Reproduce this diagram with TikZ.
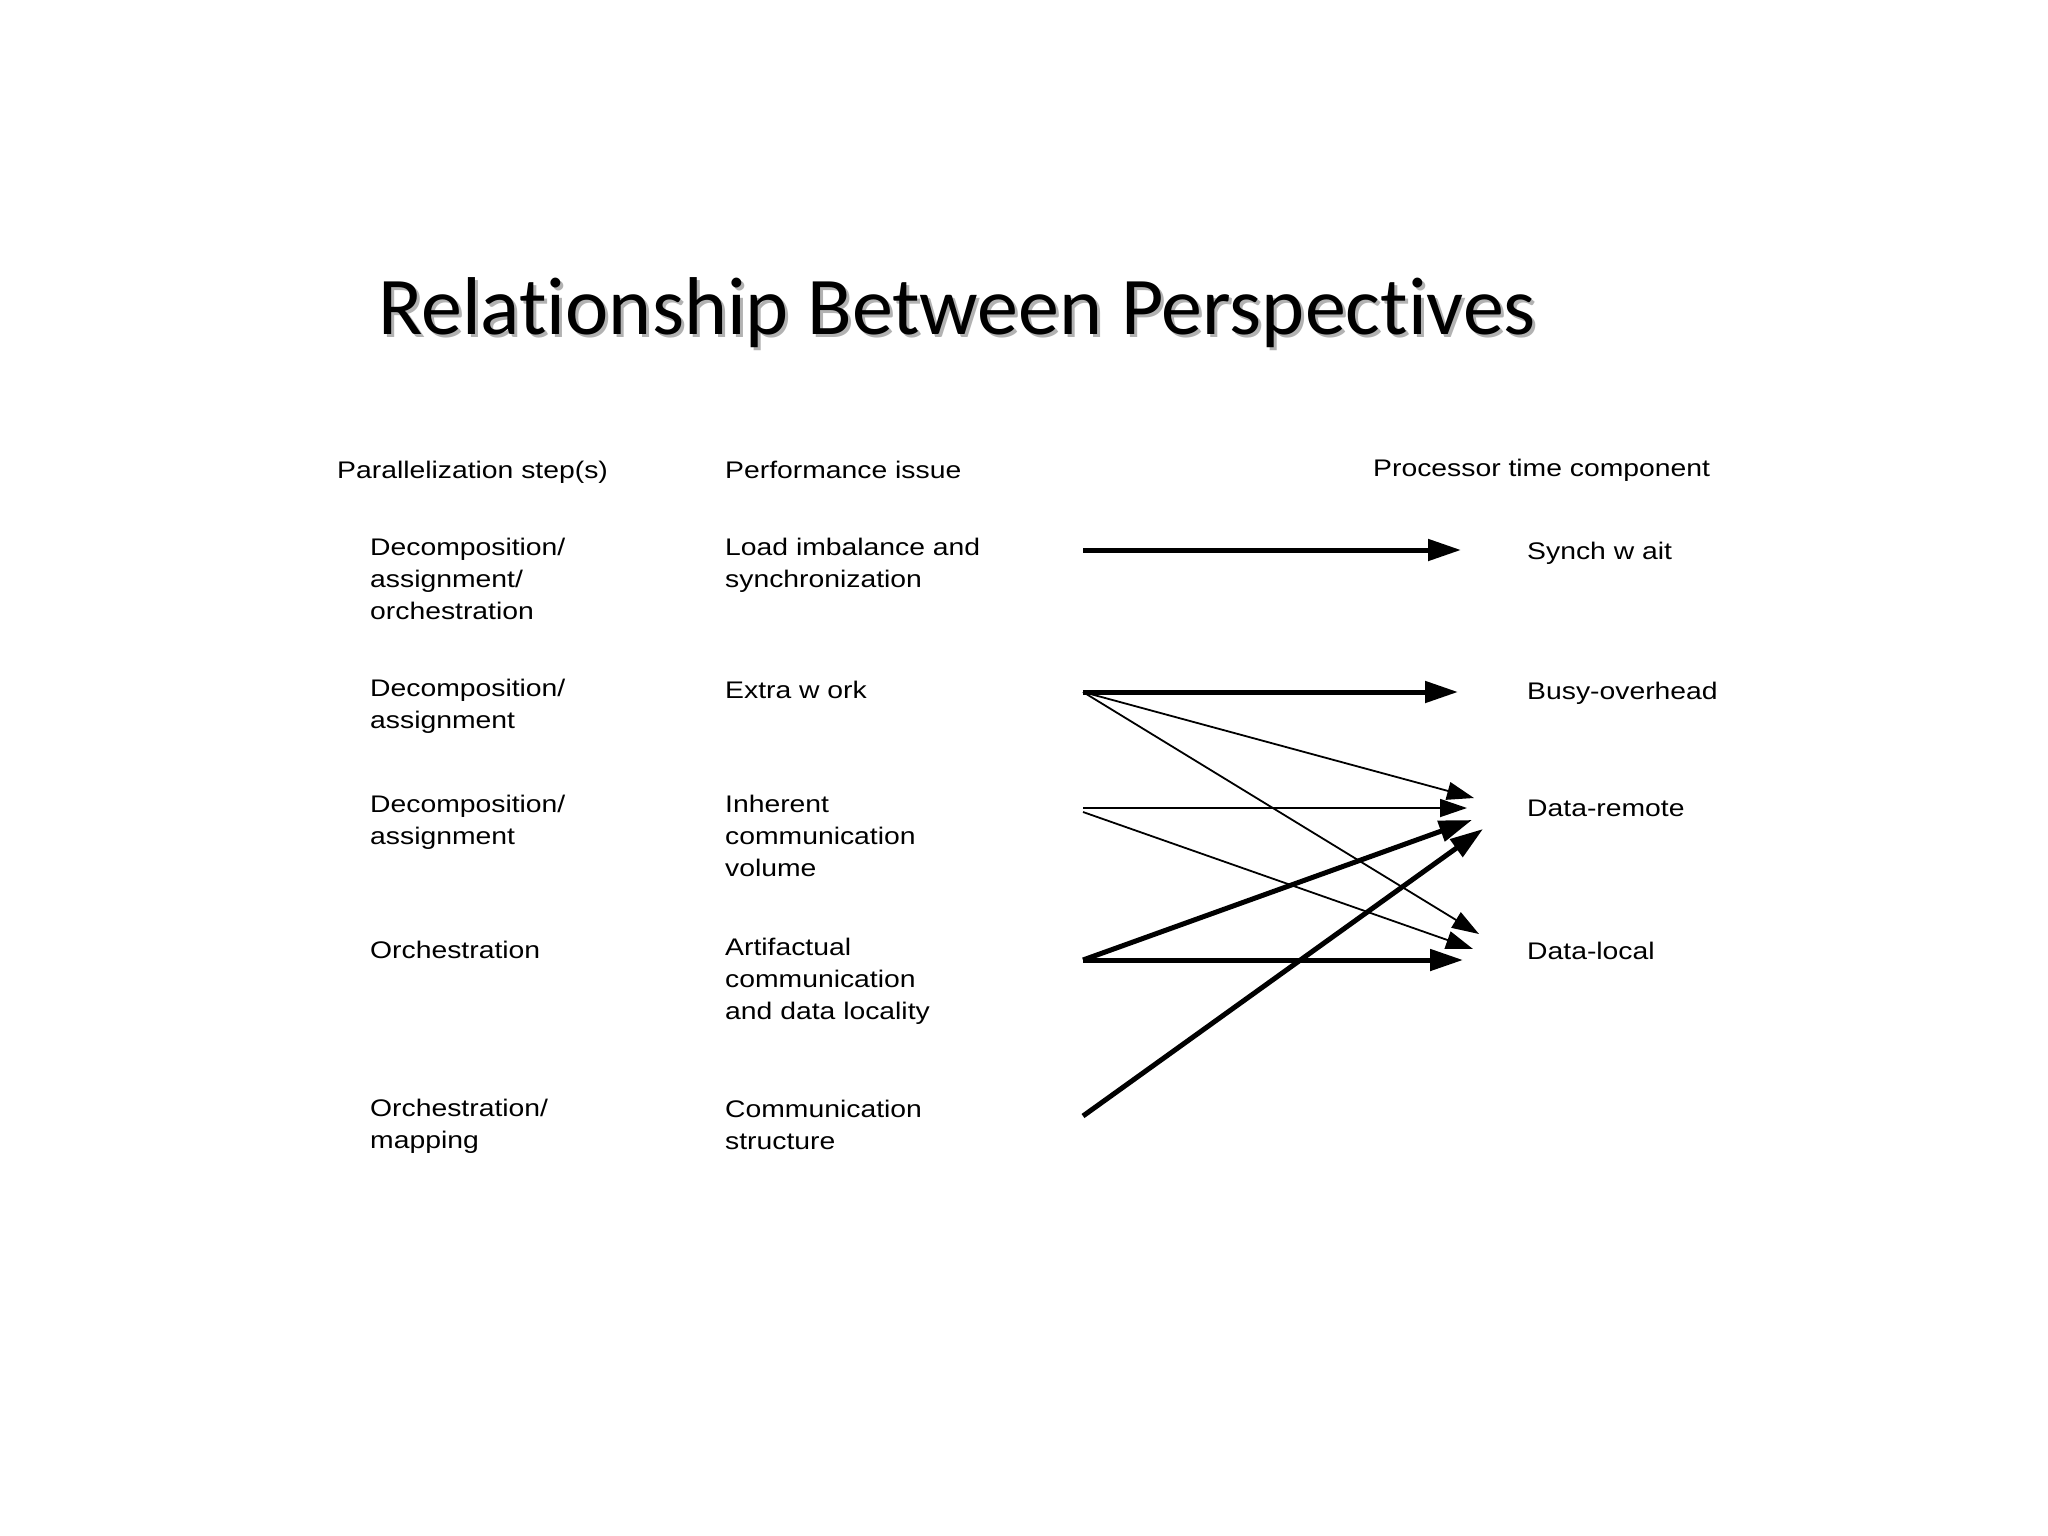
\documentclass[tikz,border=0pt]{standalone}
\usepackage{fontspec}
\setmainfont[FakeStretch=1.18]{Liberation Sans}
\newfontfamily\titlefont[Ligatures={NoCommon}]{Carlito}
\usetikzlibrary{arrows.meta}
\newcommand\mylines[1]{\begin{tabular}[t]{@{}l@{}}#1\end{tabular}}
\tikzset{
  lbl/.style={anchor=base west, inner sep=0pt, font=\fontsize{24}{32}\selectfont},
  ttl/.style={anchor=base west, inner sep=0pt, font=\titlefont\fontsize{82}{90}\selectfont},
  bigarrow/.style={line width=5pt, -{Triangle[length=33pt,width=21pt]}},
  smallarrow/.style={line width=1.8pt, -{Triangle[length=27pt,width=18pt]}},
}
\begin{document}
\begin{tikzpicture}[x=1pt,y=1pt]
\useasboundingbox[fill=white] (0,0) rectangle (2048,-1536);

% title with soft shadow
\node[ttl, text=black!30] (titleshadow) at (381,-337) {Relationship Between Perspectives};
\node[ttl] (title) at (378,-334) {Relationship Between Perspectives};

% headers
\node[lbl] (hstep) at (337,-478) {Parallelization step(s)};
\node[lbl] (hissue) at (725,-478) {Performance issue};
\node[lbl] (hcomp) at (1373,-476) {Processor time component};

% parallelization steps
\node[lbl] (s1) at (370,-555) {\mylines{Decomposition/\\assignment/\\orchestration}};
\node[lbl] (s2) at (370,-696) {\mylines{Decomposition/\\assignment}};
\node[lbl] (s3) at (370,-812) {\mylines{Decomposition/\\assignment}};
\node[lbl] (s4) at (370,-958) {Orchestration};
\node[lbl] (s5) at (370,-1116) {\mylines{Orchestration/\\mapping}};

% performance issues
\node[lbl] (i1) at (725,-555) {\mylines{Load imbalance and\\synchronization}};
\node[lbl] (i2) at (725,-698) {Extra w ork};
\node[lbl] (i3) at (725,-812) {\mylines{Inherent\\communication\\volume}};
\node[lbl] (i4) at (725,-955) {\mylines{Artifactual\\communication\\and data locality}};
\node[lbl] (i5) at (725,-1117) {\mylines{Communication\\structure}};

% processor time components
\node[lbl] (c1) at (1527,-559) {Synch w ait};
\node[lbl] (c2) at (1527,-699) {Busy-overhead};
\node[lbl] (c3) at (1527,-816) {Data-remote};
\node[lbl] (c4) at (1527,-959) {Data-local};

% arrow ends
\coordinate (o1) at (1083,-550);
\coordinate (o2) at (1083,-692);
\coordinate (o3a) at (1083,-808);
\coordinate (o3b) at (1083,-812);
\coordinate (o4) at (1083,-960);
\coordinate (o5) at (1083,-1116);

\coordinate (e1) at (1461,-550);
\coordinate (e2) at (1458,-692);
\coordinate (e23) at (1474,-798);
\coordinate (e24) at (1479,-934);
\coordinate (e33) at (1467,-808);
\coordinate (e34) at (1473,-949);
\coordinate (e43) at (1472,-820);
\coordinate (e44) at (1463,-960);
\coordinate (e53) at (1483,-829);

% connectors
\draw[bigarrow] (o1) -- (e1);
\draw[bigarrow] (o2) -- (e2);
\draw[smallarrow] (o2) -- (e23);
\draw[smallarrow] (o2) -- (e24);
\draw[smallarrow] (o3a) -- (e33);
\draw[smallarrow] (o3b) -- (e34);
\draw[bigarrow] (o4) -- (e43);
\draw[bigarrow] (o4) -- (e44);
\draw[bigarrow] (o5) -- (e53);
\end{tikzpicture}
\end{document}
